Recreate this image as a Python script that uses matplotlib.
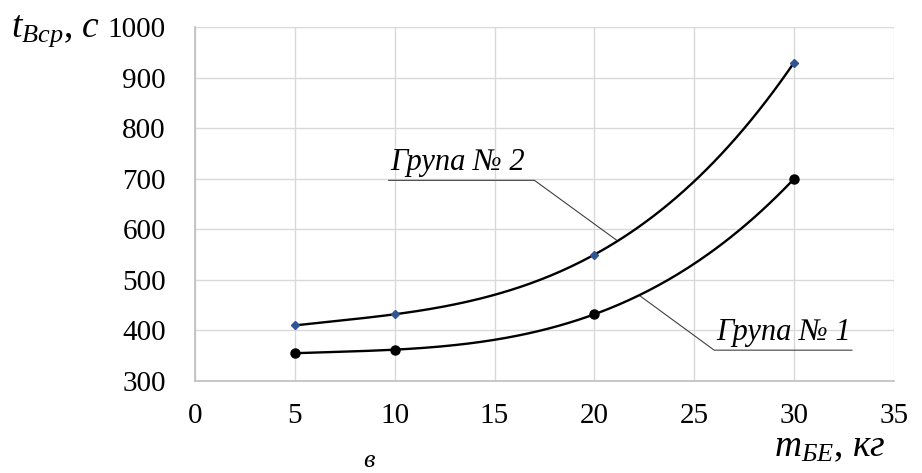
import matplotlib.pyplot as plt
import numpy as np

plt.rcParams['font.family'] = ['Liberation Serif', 'DejaVu Serif']
plt.rcParams['mathtext.fontset'] = 'custom'
plt.rcParams['mathtext.rm'] = 'Liberation Serif'
plt.rcParams['mathtext.it'] = 'Liberation Serif:italic'

# маса БЕ, кг
m_be = [5, 10, 20, 30]
# час, с
grupa1 = [355, 362, 432, 700]
grupa2 = [410, 432, 550, 930]

x_ticks = [0, 5, 10, 15, 20, 25, 30, 35]
y_ticks = [300, 400, 500, 600, 700, 800, 900, 1000]

fig = plt.figure(figsize=(9.22, 4.73), dpi=100)
ax = fig.add_axes([0.2115, 0.1945, 0.758, 0.748])

# згладжені криві через точки
xs = np.linspace(5, 30, 200)
for ys, col, mk, ms in [(grupa1, 'black', 'o', 6.5), (grupa2, '#2f5597', 'D', 4)]:
    c = np.polyfit(m_be, ys, 3)
    ax.plot(xs, np.polyval(c, xs), color='black', lw=1.7, zorder=3)
    ax.plot(m_be, ys, ls='none', marker=mk, color=col, ms=ms, zorder=4)

ax.set_xlim(0, 35)
ax.set_ylim(300, 1000)
ax.set_xticks(x_ticks)
ax.set_yticks(y_ticks)
ax.grid(True, color='#d9d9d9', lw=1)
ax.set_axisbelow(True)
for s in ['top', 'right']:
    ax.spines[s].set_visible(False)
for s in ['left', 'bottom']:
    ax.spines[s].set_color('#bfbfbf')
    ax.spines[s].set_linewidth(1.2)
ax.tick_params(length=0, labelsize=21)
ax.tick_params(axis='x', pad=16)
ax.tick_params(axis='y', pad=21)

# підписи кривих з виносками
ax.plot([9.7, 17.0, 21.1], [697, 697, 579], color='#404040', lw=0.8, zorder=2)
ax.text(9.8, 703, 'Група № 2', fontsize=22, style='italic', ha='left', va='bottom')
ax.plot([22.3, 26.0, 32.9], [468, 361, 361], color='#404040', lw=0.8, zorder=2)
ax.text(26.1, 367, 'Група № 1', fontsize=22, style='italic', ha='left', va='bottom')

fig.text(0.012, 0.922, r'$t_{\mathit{Вср}}$, $c$', fontsize=27, ha='left', va='baseline')
fig.text(0.84, 0.035, r'$m_{\mathit{БЕ}}$, $\mathit{кг}$', fontsize=27, ha='left', va='baseline')
fig.text(0.40, 0.012, 'в', fontsize=19, style='italic', ha='center', va='baseline')

plt.savefig('out.png', dpi=100)
